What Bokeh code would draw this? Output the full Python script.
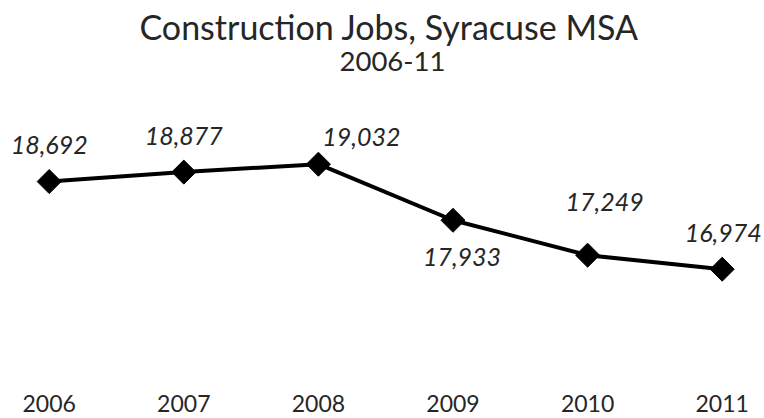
from bokeh.plotting import figure
from bokeh.models import ColumnDataSource, Title, FixedTicker, Range1d
from bokeh.core.properties import value
from bokeh.embed import file_html
from bokeh.resources import INLINE
import math

# ---- data ----
years = [2006, 2007, 2008, 2009, 2010, 2011]
jobs = [18692, 18877, 19032, 17933, 17249, 16974]
labels = ["18,692", "18,877", "19,032", "17,933", "17,249", "16,974"]

# ---- label placement (style, screen px) ----
label_dx = [0, 0, 43, 9, 17, 1]
label_dy = [-37, -36, -27, 37, -53, -36]

FONT = "Lato"
TXT = "#262626"

src = ColumnDataSource(dict(x=years, y=jobs, lab=labels, dx=label_dx, dy=label_dy))

p = figure(width=764, height=418, output_backend="svg", toolbar_location=None,
           x_range=Range1d(2005.6382, 2011.3143), y_range=Range1d(14636, 20790),
           min_border_left=0, min_border_right=0, min_border_top=74, min_border_bottom=30,
           title="Construction Jobs, Syracuse MSA")
p.title.text_font = FONT
p.title.text_font_size = "34px"
p.title.text_font_style = "normal"
p.title.text_color = TXT
p.title.align = "left"
p.title.standoff = 0
p.title.offset = 139

sub = Title(text="2006-11", align="left", text_font=FONT, text_font_size="27.5px",
            text_font_style="normal", text_color=TXT, standoff=7, offset=339)
p.add_layout(sub, "above")

p.outline_line_color = None
p.grid.visible = False
p.yaxis.visible = False
p.xaxis.ticker = FixedTicker(ticks=years)
p.xaxis.axis_line_color = None
p.xaxis.major_tick_line_color = None
p.xaxis.minor_tick_line_color = None
p.xaxis.major_label_standoff = 0
p.xaxis.major_label_text_font = FONT
p.xaxis.major_label_text_font_size = "23px"
p.xaxis.major_label_text_color = TXT

p.line("x", "y", source=src, line_color="black", line_width=4)
p.scatter("x", "y", source=src, marker="square", angle=math.pi / 4, size=17,
          fill_color="black", line_color="black")
p.text("x", "y", text="lab", source=src, x_offset="dx", y_offset="dy",
       text_align="center", text_baseline="middle", text_font=value(FONT),
       text_font_style="italic", text_font_size="25px", text_color=TXT)

open("out.html", "w").write(file_html(p, INLINE))
